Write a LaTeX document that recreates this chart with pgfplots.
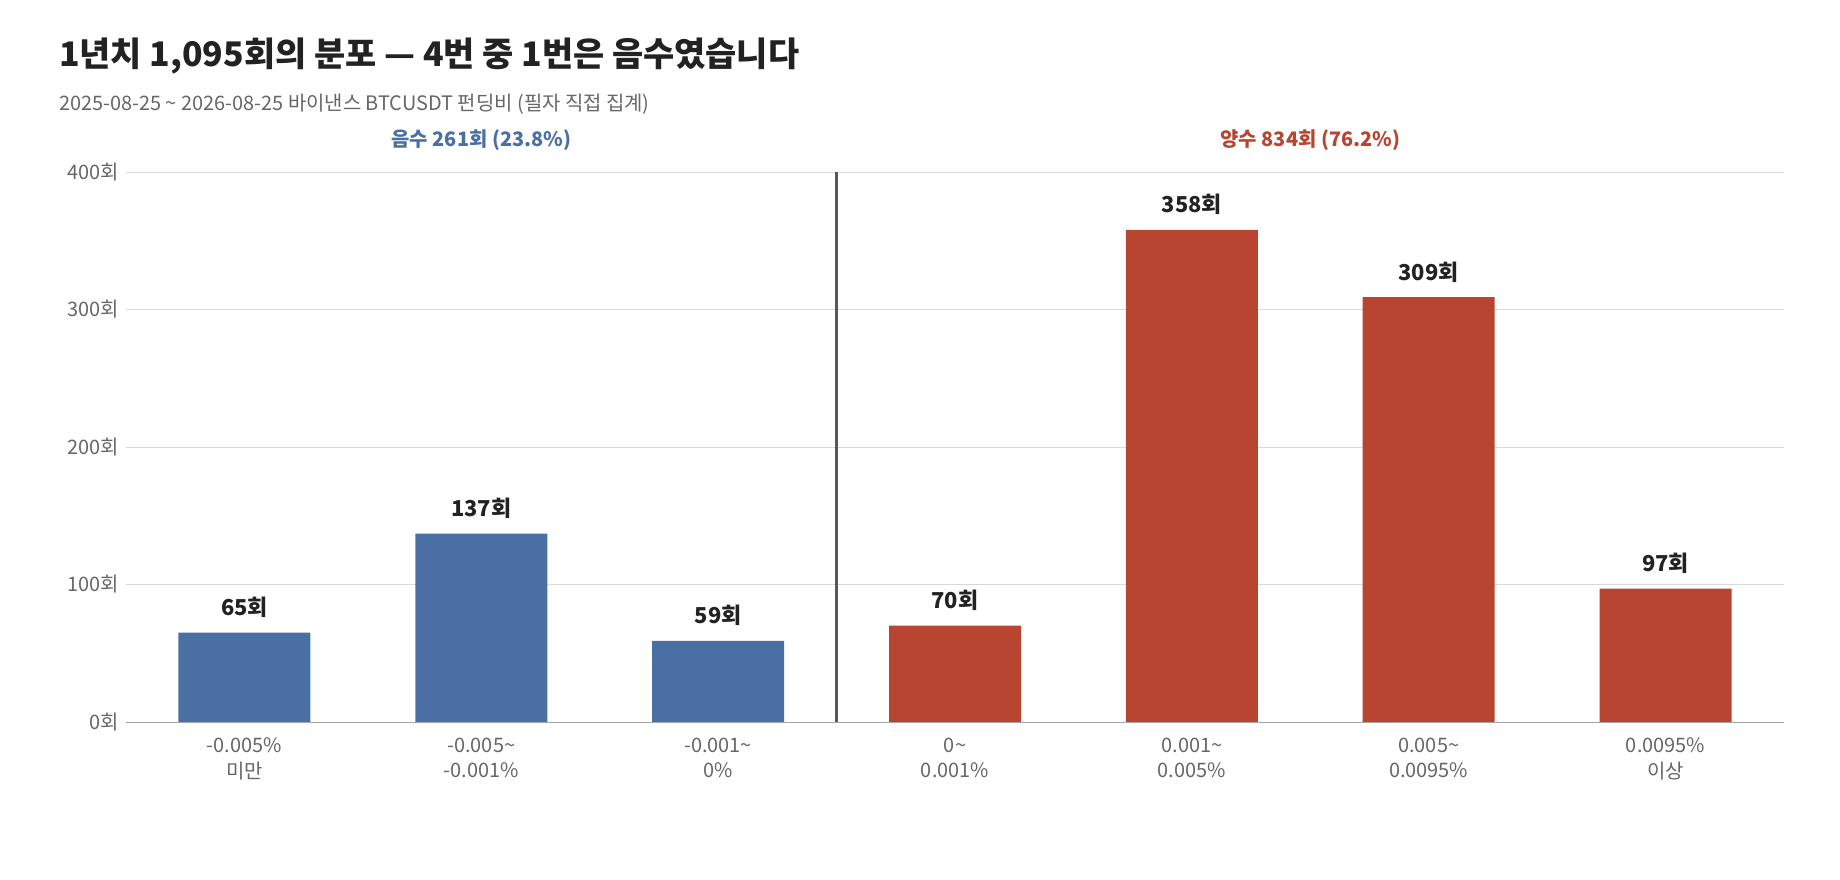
\documentclass[border=0pt]{standalone}
\usepackage{pgfplots}
\pgfplotsset{compat=1.18}
\usepackage{fontspec}
\setmainfont{Noto Sans CJK KR}
\newfontfamily\boldkr{Noto Sans CJK KR}[FakeBold=0]
\definecolor{negc}{HTML}{4A6FA5}
\definecolor{posc}{HTML}{B84532}
\definecolor{txt}{HTML}{222222}
\definecolor{sub}{HTML}{666666}
\begin{document}
\begin{tikzpicture}
\path[use as bounding box] (0,0) rectangle (920bp,440bp);
\node[anchor=west,font=\fontsize{17}{20}\selectfont\bfseries,text=txt] at (26bp,412bp) {1년치 1,095회의 분포 — 4번 중 1번은 음수였습니다};
\node[anchor=west,font=\fontsize{10}{12}\selectfont,text=sub] at (26bp,388bp) {2025-08-25 \textasciitilde{} 2026-08-25 바이낸스 BTCUSDT 펀딩비 (필자 직접 집계)};
\begin{axis}[
  at={(63bp,79bp)}, anchor=south west,
  scale only axis, width=829bp, height=275bp,
  xmin=-0.5, xmax=6.5, ymin=0, ymax=400,
  ytick={0,100,200,300,400},
  yticklabel={\pgfmathprintnumber{\tick}회},
  /pgf/number format/assume math mode=true,
  xtick={0,...,6},
  xticklabels={{-0.005\%\\미만},{-0.005\textasciitilde\\-0.001\%},{-0.001\textasciitilde\\0\%},{0\textasciitilde\\0.001\%},{0.001\textasciitilde\\0.005\%},{0.005\textasciitilde\\0.0095\%},{0.0095\%\\이상}},
  xticklabel style={align=center,font=\fontsize{10}{13}\selectfont,text=sub},
  yticklabel style={font=\fontsize{10}{12}\selectfont,text=sub},
  ymajorgrids, grid style={gray!30},
  axis line style={draw=none},
  axis x line*=bottom,
  x axis line style={draw=gray!70},
  tick style={draw=none},
  clip=false,
  ybar, bar width=66bp, bar shift=0pt,
  nodes near coords={\pgfmathprintnumber{\pgfplotspointmeta}회},
  nodes near coords style={font=\fontsize{11}{13}\selectfont\bfseries,text=txt,yshift=4bp},
]
\addplot[fill=negc,draw=none] coordinates {(0,65) (1,137) (2,59)};
\addplot[fill=posc,draw=none] coordinates {(3,70) (4,358) (5,309) (6,97)};
\draw[gray!70!black,line width=1.2pt] (axis cs:2.5,0) -- (axis cs:2.5,400);
\node[font=\fontsize{10}{12}\selectfont\bfseries,text=negc] at (axis cs:1,400) [yshift=16bp] {음수 261회 (23.8\%)};
\node[font=\fontsize{10}{12}\selectfont\bfseries,text=posc] at (axis cs:4.5,400) [yshift=16bp] {양수 834회 (76.2\%)};
\end{axis}
\end{tikzpicture}
\end{document}
